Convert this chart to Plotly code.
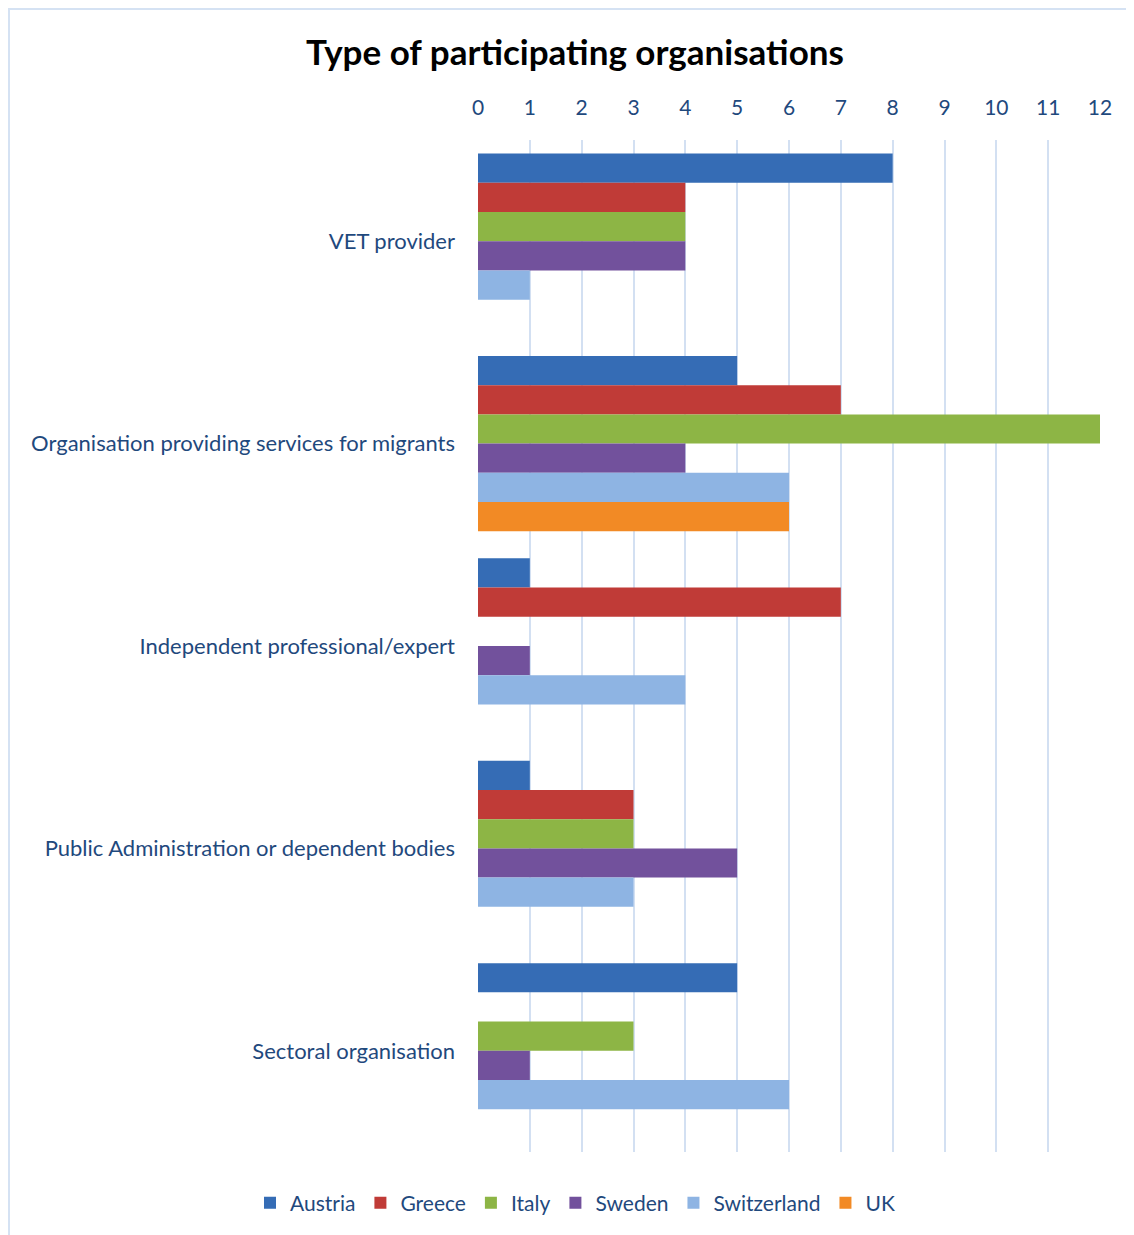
import plotly.graph_objects as go

categories = [
    "VET provider",
    "Organisation providing services for migrants",
    "Independent professional/expert",
    "Public Administration or dependent bodies",
    "Sectoral organisation",
]
austria = [8, 5, 1, 1, 5]
greece = [4, 7, 7, 3, 0]
italy = [4, 12, 0, 3, 3]
sweden = [4, 4, 1, 5, 1]
switzerland = [1, 6, 4, 3, 6]
uk = [0, 6, 0, 0, 0]
tick_values = list(range(0, 13))

series = [
    ("Austria", austria, "#356CB5"),
    ("Greece", greece, "#C03B37"),
    ("Italy", italy, "#8DB545"),
    ("Sweden", sweden, "#72519C"),
    ("Switzerland", switzerland, "#8EB4E3"),
    ("UK", uk, "#F28A25"),
]

fig = go.Figure()
for name, vals, col in series:
    fig.add_trace(go.Bar(
        y=categories, x=vals, name=name, orientation="h",
        marker=dict(color=col, line=dict(width=0)),
    ))

font_family = "Lato, 'Open Sans', sans-serif"
text_col = "#1F497D"

L, R, T, B = 470, 42, 132, 91
PW, PH = 1134 - L - R, 1235 - T - B

fig.update_layout(
    width=1134, height=1235,
    margin=dict(l=L, r=R, t=T, b=B),
    paper_bgcolor="white", plot_bgcolor="white",
    barmode="group", bargap=0.134, bargroupgap=0,
    font=dict(family=font_family, size=22, color=text_col),
    title=dict(text="<b>Type of participating organisations</b>",
               x=0.5, xref="container", xanchor="center",
               y=1 - 45/1235, yref="container", yanchor="middle",
               font=dict(size=35, color="black", family=font_family)),
    xaxis=dict(side="top", range=[0, 12], tickvals=tick_values,
               showgrid=True, gridcolor="#D3E0F2", gridwidth=2,
               zeroline=False, showline=False, ticks="",
               ticklabelstandoff=20,
               tickfont=dict(size=21, color=text_col)),
    yaxis=dict(autorange="reversed", showgrid=False, showline=False,
               ticks="", ticklabelstandoff=22,
               tickfont=dict(size=22, color=text_col)),
    legend=dict(orientation="h", xref="paper", yref="paper",
                x=(242 - L) / PW, xanchor="left",
                y=-(1195 - (1235 - B)) / PH, yanchor="middle",
                font=dict(size=21, color=text_col),
                traceorder="normal"),
    shapes=[dict(type="rect", xref="paper", yref="paper",
                 x0=(-L + 1) / PW, x1=(1134 - L + 5) / PW,
                 y0=-(B + 5) / PH, y1=1 + (T - 1) / PH,
                 line=dict(color="#D5E2F3", width=2), fillcolor="rgba(0,0,0,0)",
                 layer="below")],
)

fig.write_html("out.html")
